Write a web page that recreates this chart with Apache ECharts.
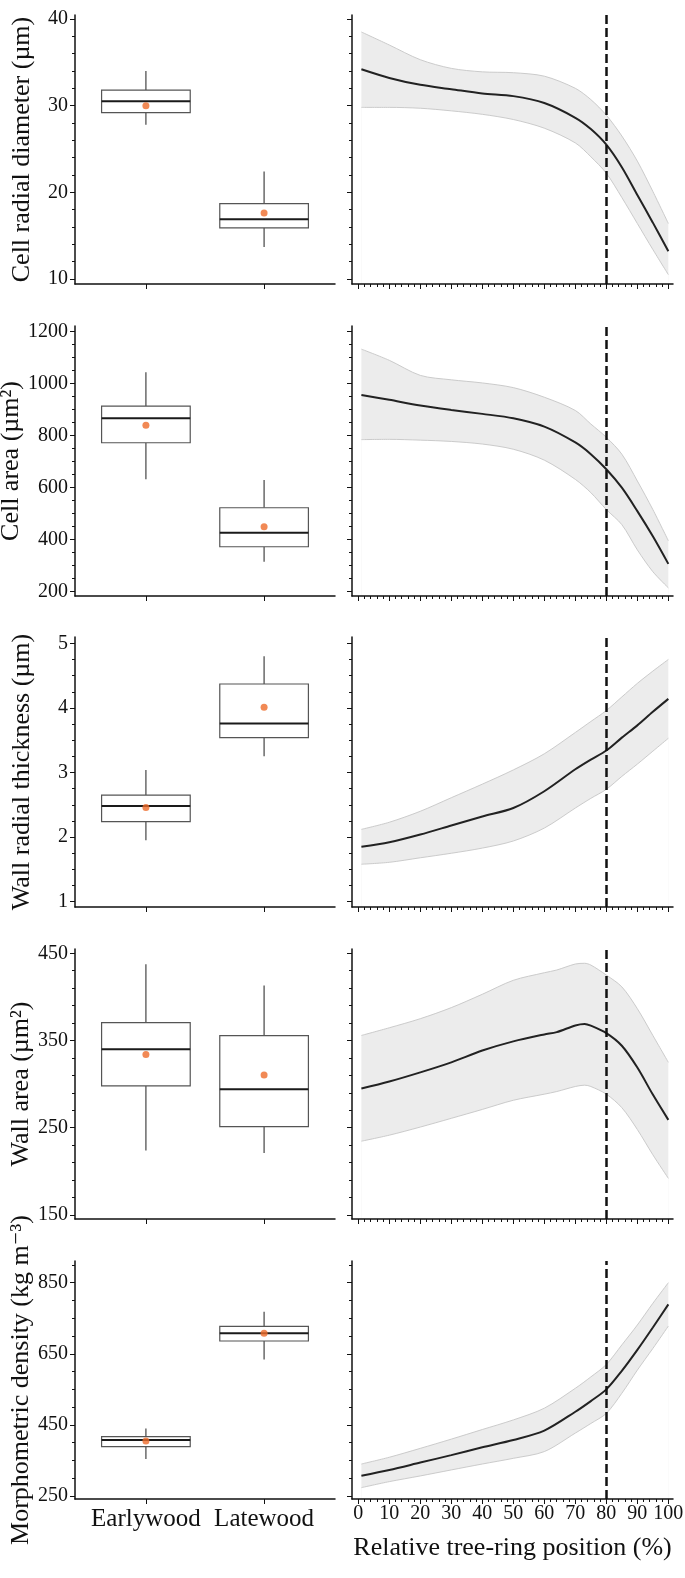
<!DOCTYPE html>
<html><head><meta charset="utf-8">
<script src="https://cdn.jsdelivr.net/npm/echarts@6/dist/echarts.min.js"></script>
<style>html,body{margin:0;padding:0;background:#fff}#c{width:685px;height:1578px}</style>
</head><body><div id="c"></div>
<script>
// ---------- DATA ----------
const groups = ['Earlywood', 'Latewood'];
const xTitle = 'Relative tree-ring position (%)';
const posMajor = [0,10,20,30,40,50,60,70,80,90,100];
const posMinor = [2,4,6,8,12,14,16,18,22,24,26,28,32,34,36,38,42,44,46,48,52,54,56,58,62,64,66,68,72,74,76,78,82,84,86,88,92,94,96,98];
const threshold = 80;

// box stats: [lower whisker, Q1, median, Q3, upper whisker]
const diamBox = [[27.8,29.2,30.5,31.8,34.0],[13.7,15.9,16.9,18.7,22.4]];
const diamMean = [30.0, 17.6];
const areaBox = [[633,773,867,914,1044],[315,373,427,523,630]];
const areaMean = [840, 450];
const thickBox = [[1.95,2.24,2.48,2.65,3.04],[3.25,3.54,3.76,4.37,4.80]];
const thickMean = [2.46, 4.01];
const wallBox = [[224,298,340,370.5,437.4],[221,251.3,294,355.6,413]];
const wallMean = [334, 310.5];
const densBox = [[354,389,407.5,417,440],[634,686,708,727,768]];
const densMean = [405, 707.5];

// fitted curves with confidence band
const diamX = [1,10,20,30,40,50,60,70,75,80,85,90,95,100];
const diamFit = [34.2,33.2,32.4,31.9,31.4,31.1,30.3,28.6,27.3,25.5,22.9,19.7,16.5,13.2];
const diamUpper = [38.5,37.0,35.3,34.3,33.9,33.8,33.4,32.0,30.7,28.9,26.5,23.6,20.1,16.4];
const diamLower = [29.8,29.8,29.7,29.4,29.0,28.4,27.4,25.7,24.1,22.2,19.4,16.4,13.4,10.5];

const areaX = [1,10,20,30,40,50,60,70,75,80,85,90,95,100];
const areaFit = [957,938,916,899,884,867,835,774,729,671,600,510,413,307];
const areaUpper = [1133,1090,1032,1015,1003,985,948,897,845,794,729,626,516,396];
const areaLower = [785,786,783,778,768,748,706,632,581,516,458,361,277,215];

const thickX = [1,10,20,30,40,50,60,70,75,80,85,90,95,100];
const thickFit = [1.85,1.92,2.04,2.18,2.32,2.45,2.71,3.05,3.20,3.34,3.54,3.73,3.94,4.14];
const thickUpper = [2.12,2.23,2.40,2.61,2.82,3.04,3.29,3.62,3.79,3.96,4.17,4.38,4.57,4.75];
const thickLower = [1.58,1.61,1.68,1.75,1.83,1.94,2.14,2.45,2.60,2.74,2.94,3.13,3.33,3.53];

const wallX = [1,10,20,30,40,50,60,64,70,73,75,80,85,90,95,100];
const wallFit = [295,303,313.5,325,338.5,349,357,359.6,367.3,369,367,358.5,344,319,288,259];
const wallUpper = [355.8,364.6,375,387.7,403,419,427.7,430.8,437.7,438.5,436.5,425,411.5,386.5,355.8,325];
const wallLower = [234.6,241.5,250.8,260.8,271,281.5,288.5,291.5,297.3,298.8,297.3,288.5,273,248,219,192];

const densX = [1,10,20,30,40,50,60,70,75,80,85,90,95,100];
const densFit = [307,323,344,365,387,407.5,434,487,517,550,602,661,724,789];
const densUpper = [340,359,384,410,437,464,497,553,585,620,675,731,792,850];
const densLower = [273.5,290.5,306.5,323.4,340,356,375,427,454,482.5,539,604,665,728];

// tick labels
const diamTicks = [10,20,30,40];
const diamMinor = [12,14,16,18,22,24,26,28,32,34,36,38];
const areaTicks = [200,400,600,800,1000,1200];
const areaMinor = [250,300,350,450,500,550,650,700,750,850,900,950,1050,1100,1150];
const thickTicks = [1,2,3,4,5];
const thickMinor = [1.25,1.5,1.75,2.25,2.5,2.75,3.25,3.5,3.75,4.25,4.5,4.75];
const wallTicks = [150,250,350,450];
const wallMinor = [170,190,210,230,270,290,310,330,370,390,410,430];
const densTicks = [250,450,650,850];
const densMinor = [300,350,400,500,550,600,700,750,800,900];

// ---------- LAYOUT ----------
const rows = [
  {title:'Cell radial diameter (µm)', range:[9.42,40.46], ticks:diamTicks, minor:diamMinor, box:diamBox, mean:diamMean, x:diamX, fit:diamFit, up:diamUpper, lo:diamLower},
  {title:'Cell area (µm²)', range:[183.5,1222], ticks:areaTicks, minor:areaMinor, box:areaBox, mean:areaMean, x:areaX, fit:areaFit, up:areaUpper, lo:areaLower},
  {title:'Wall radial thickness (µm)', range:[0.918,5.098], ticks:thickTicks, minor:thickMinor, box:thickBox, mean:thickMean, x:thickX, fit:thickFit, up:thickUpper, lo:thickLower},
  {title:'Wall area (µm²)', range:[145.4,454.9], ticks:wallTicks, minor:wallMinor, box:wallBox, mean:wallMean, x:wallX, fit:wallFit, up:wallUpper, lo:wallLower},
  {title:'Morphometric density (kg m⁻³)', range:[241.6,911], ticks:densTicks, minor:densMinor, box:densBox, mean:densMean, x:densX, fit:densFit, up:densUpper, lo:densLower}
];
const rowBounds = [[15,284],[326,596],[637,907],[949,1219],[1261,1499]];
const colBounds = [[75,260],[352,321]];
const FONT = '"Liberation Serif", "Times New Roman", "DejaVu Serif", serif';
const INK = '#111';
const SMOOTH = 0.3;

function renderBox(params, api) {
  const x = api.value(0);
  const pLo = api.coord([x, api.value(1)]);
  const pQ1 = api.coord([x, api.value(2)]);
  const pMed = api.coord([x, api.value(3)]);
  const pQ3 = api.coord([x, api.value(4)]);
  const pHi = api.coord([x, api.value(5)]);
  const w = api.size([0.75, 0])[0];
  const cx = pMed[0];
  const ws = {stroke:'#444', lineWidth:1.2};
  return {type:'group', children:[
    {type:'line', shape:{x1:cx, y1:pHi[1], x2:cx, y2:pQ3[1]}, style:ws},
    {type:'line', shape:{x1:cx, y1:pQ1[1], x2:cx, y2:pLo[1]}, style:ws},
    {type:'rect', shape:{x:cx - w/2, y:pQ3[1], width:w, height:pQ1[1] - pQ3[1]}, style:{fill:'#fff', stroke:'#555', lineWidth:1.2}},
    {type:'line', shape:{x1:cx - w/2, y1:pMed[1], x2:cx + w/2, y2:pMed[1]}, style:{stroke:'#1a1a1a', lineWidth:2}}
  ]};
}

const option = {animation:false, backgroundColor:'#fff', grid:[], xAxis:[], yAxis:[], series:[]};

rows.forEach((row, r) => {
  const last = r === rows.length - 1;
  [0, 1].forEach(c => {
    const g = r * 2 + c;
    option.grid.push({left:colBounds[c][0], width:colBounds[c][1], top:rowBounds[r][0], height:rowBounds[r][1] - rowBounds[r][0], outerBoundsMode:'none', containLabel:false});
    const xr = c ? [-2.03, 101.5] : [0.4, 2.6];
    const xMajor = c ? posMajor : [1, 2];
    option.xAxis.push({
      type:'value', gridIndex:g, min:xr[0], max:xr[1], position:'bottom', splitLine:{show:false}, z:10,
      axisLine:{show:true, onZero:false, lineStyle:{color:INK, width:1.5}},
      axisTick:{show:true, customValues:xMajor, length:5, lineStyle:{color:INK, width:1}},
      axisLabel:{show:last, customValues:xMajor, formatter: c ? (v => String(v)) : (v => groups[Math.round(v) - 1]),
        fontFamily:FONT, fontSize: c ? 20 : 25, color:INK, margin: c ? 5 : 8},
      name: (last && c) ? xTitle : '', nameLocation:'middle', nameGap:36,
      nameTextStyle:{fontFamily:FONT, fontSize:26, color:INK}
    });
    option.xAxis.push({
      type:'value', gridIndex:g, min:xr[0], max:xr[1], position:'bottom', splitLine:{show:false}, z:10,
      axisLine:{show:false, onZero:false},
      axisTick:{show: c === 1, customValues:posMinor, length:3, lineStyle:{color:INK, width:1}},
      axisLabel:{show:false}
    });
    option.yAxis.push({
      type:'value', gridIndex:g, min:row.range[0], max:row.range[1], position:'left', splitLine:{show:false}, z:10,
      axisLine:{show:true, onZero:false, lineStyle:{color:INK, width:1.5}},
      axisTick:{show:true, customValues:row.ticks, length:5, lineStyle:{color:INK, width:1}},
      axisLabel:{show: c === 0, customValues:row.ticks, formatter: v => String(v), fontFamily:FONT, fontSize:20, color:INK, margin:7},
      name: c === 0 ? row.title : '', nameLocation:'middle', nameGap:40, nameRotate:90,
      nameTextStyle:{fontFamily:FONT, fontSize:26, color:INK}
    });
    option.yAxis.push({
      type:'value', gridIndex:g, min:row.range[0], max:row.range[1], position:'left', splitLine:{show:false}, z:10,
      axisLine:{show:false, onZero:false},
      axisTick:{show:true, customValues:row.minor, length:3, lineStyle:{color:INK, width:1}},
      axisLabel:{show:false}
    });
    const xi = g * 2, yi = g * 2;
    if (c === 0) {
      option.series.push({
        type:'custom', xAxisIndex:xi, yAxisIndex:yi, renderItem:renderBox,
        encode:{x:0, y:[1,2,3,4,5]},
        data: row.box.map((b, i) => [i + 1].concat(b)), z:2
      });
      option.series.push({
        type:'scatter', xAxisIndex:xi, yAxisIndex:yi, symbol:'circle', symbolSize:7,
        itemStyle:{color:'#ee6b2a'}, data: row.mean.map((m, i) => [i + 1, m]), z:5
      });
    } else {
      // upper band edge, filled down to axis
      option.series.push({
        type:'line', xAxisIndex:xi, yAxisIndex:yi, symbol:'none', smooth:SMOOTH,
        lineStyle:{color:'#cbcbcb', width:1}, areaStyle:{color:'#ececec', opacity:1, origin:'start'},
        data: row.x.map((x, i) => [x, row.up[i]]), z:1
      });
      // lower band edge, white fill below it
      option.series.push({
        type:'line', xAxisIndex:xi, yAxisIndex:yi, symbol:'none', smooth:SMOOTH,
        lineStyle:{color:'#cbcbcb', width:1}, areaStyle:{color:'#ffffff', opacity:1, origin:'start'},
        data: row.x.map((x, i) => [x, row.lo[i]]), z:2
      });
      option.series.push({
        type:'line', xAxisIndex:xi, yAxisIndex:yi, symbol:'none', smooth:SMOOTH,
        lineStyle:{color:'#222', width:2}, data: row.x.map((x, i) => [x, row.fit[i]]), z:3,
        markLine:{silent:true, symbol:'none', label:{show:false},
          lineStyle:{color:INK, width:2.5, type:[9,4]}, data:[{xAxis:threshold}]}
      });
    }
  });
});

const chart = echarts.init(document.getElementById('c'), null, {renderer:'canvas'});
chart.setOption(option);
</script>
</body></html>
